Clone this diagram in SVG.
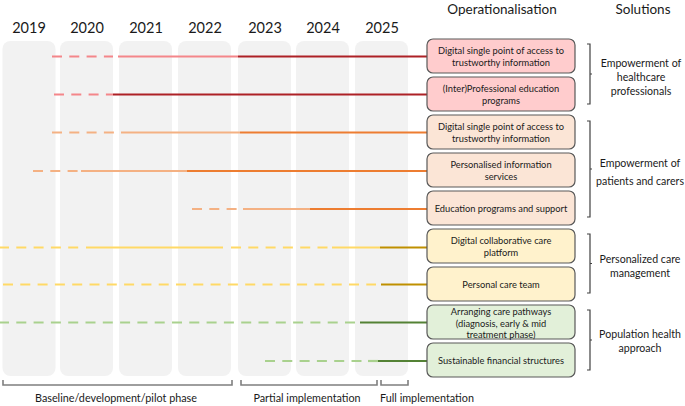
<svg xmlns="http://www.w3.org/2000/svg" width="685" height="406" viewBox="0 0 685 406">
<style>
.col{fill:#f2f2f2}
.yr{font-family:Lato,"Liberation Sans",sans-serif;font-size:14.5px;fill:#1a1a1a;text-anchor:middle}
.hd{font-family:Lato,"Liberation Sans",sans-serif;font-size:13.5px;fill:#1a1a1a;text-anchor:middle}
.sol{font-family:Lato,"Liberation Sans",sans-serif;font-size:10.6px;fill:#1a1a1a;text-anchor:middle}
.bt{font-family:Lato,"Liberation Sans",sans-serif;font-size:9.3px;fill:#1a1a1a;text-anchor:middle}
.ph{font-family:Lato,"Liberation Sans",sans-serif;font-size:10.8px;fill:#1a1a1a;text-anchor:middle}
.box{stroke:#595959;stroke-width:1.2}
.pk{fill:#ffcccd}.or{fill:#fbe5d6}.ye{fill:#fff2cc}.gr{fill:#e2f0d9}
.ln{fill:none;stroke-width:2.2}
.d{stroke-dasharray:10 7.3}
.rl{stroke:#f4868a}.rd{stroke:#ad2126}
.ol{stroke:#f4b183}.od{stroke:#ed7d31}
.yl{stroke:#ffd966}.yd{stroke:#bf9000}
.gl{stroke:#a9d18e}.gd{stroke:#548235}
.br{fill:none;stroke:#404040;stroke-width:1.2}
.bb{fill:none;stroke:#7f7f7f;stroke-width:1.6}
</style>
<g id="columns">
<rect class="col" x="2.5" y="41" width="53" height="335" rx="8"/>
<rect class="col" x="60" y="41" width="53" height="335" rx="8"/>
<rect class="col" x="119" y="41" width="53" height="335" rx="8"/>
<rect class="col" x="178" y="41" width="53" height="335" rx="8"/>
<rect class="col" x="238" y="41" width="53" height="335" rx="8"/>
<rect class="col" x="296" y="41" width="53" height="335" rx="8"/>
<rect class="col" x="355" y="41" width="53" height="335" rx="8"/>
</g>
<g id="years">
<text class="yr" x="29" y="33">2019</text>
<text class="yr" x="87" y="33">2020</text>
<text class="yr" x="146" y="33">2021</text>
<text class="yr" x="205" y="33">2022</text>
<text class="yr" x="265" y="33">2023</text>
<text class="yr" x="323" y="33">2024</text>
<text class="yr" x="382" y="33">2025</text>
</g>
<g id="headers">
<text class="hd" x="502" y="14">Operationalisation</text>
<text class="hd" x="643" y="14">Solutions</text>
</g>
<g id="connectors">
<path class="ln d rl" d="M52,56.5H113"/>
<path class="ln rl" d="M118,56.5H238"/>
<path class="ln rd" d="M238,56.5H427"/>
<path class="ln d rl" d="M54,94.5H113"/>
<path class="ln rd" d="M113,94.5H427"/>
<path class="ln d ol" d="M52,132.5H114"/>
<path class="ln ol" d="M121,132.5H240"/>
<path class="ln od" d="M240,132.5H427"/>
<path class="ln d ol" d="M33,171H78"/>
<path class="ln ol" d="M81,171H187"/>
<path class="ln od" d="M187,171H427"/>
<path class="ln d ol" d="M192,209H237"/>
<path class="ln ol" d="M243,209H310"/>
<path class="ln od" d="M310,209H427"/>
<path class="ln d yl" d="M-1,247.5H80"/>
<path class="ln yl" d="M86,247.5H223"/>
<path class="ln d yl" d="M231,247.5H328"/>
<path class="ln yl" d="M332,247.5H380"/>
<path class="ln yd" d="M380,247.5H427"/>
<path class="ln d yl" d="M3,284.5H376"/>
<path class="ln yd" d="M381,284.5H427"/>
<path class="ln d gl" d="M-1,322.5H356"/>
<path class="ln gd" d="M360,322.5H427"/>
<path class="ln d gl" d="M265,361H369"/>
<path class="ln gl" d="M368,361H378"/>
<path class="ln gd" d="M378,361H427"/>
</g>
<g id="op1"><rect class="box pk" x="427" y="39" width="148" height="34" rx="6"/><text class="bt" x="501" y="54">Digital single point of access to</text><text class="bt" x="501" y="65.5">trustworthy information</text></g>
<g id="op2"><rect class="box pk" x="427" y="77" width="148" height="34" rx="6"/><text class="bt" x="501" y="92">(Inter)Professional education</text><text class="bt" x="501" y="103.5">programs</text></g>
<g id="op3"><rect class="box or" x="427" y="115" width="148" height="34" rx="6"/><text class="bt" x="501" y="130">Digital single point of access to</text><text class="bt" x="501" y="141.5">trustworthy information</text></g>
<g id="op4"><rect class="box or" x="427" y="153" width="148" height="34" rx="6"/><text class="bt" x="501" y="168">Personalised information</text><text class="bt" x="501" y="179.5">services</text></g>
<g id="op5"><rect class="box or" x="427" y="191" width="148" height="34" rx="6"/><text class="bt" x="501" y="211.5">Education programs and support</text></g>
<g id="op6"><rect class="box ye" x="427" y="229" width="148" height="34" rx="6"/><text class="bt" x="501" y="244">Digital collaborative care</text><text class="bt" x="501" y="255.5">platform</text></g>
<g id="op7"><rect class="box ye" x="427" y="267" width="148" height="34" rx="6"/><text class="bt" x="501" y="287.5">Personal care team</text></g>
<g id="op8"><rect class="box gr" x="427" y="305" width="148" height="34" rx="6"/><text class="bt" x="501" y="315">Arranging care pathways</text><text class="bt" x="501" y="326.5">(diagnosis, early &amp; mid</text><text class="bt" x="501" y="338">treatment phase)</text></g>
<g id="op9"><rect class="box gr" x="427" y="343" width="148" height="34" rx="6"/><text class="bt" x="501" y="363.5">Sustainable financial structures</text></g>
<g id="sol1"><path class="br" d="M587,44H590V104H587M590,74H592"/><text class="sol" x="641" y="67">Empowerment of</text><text class="sol" x="641" y="81">healthcare</text><text class="sol" x="641" y="95">professionals</text></g>
<g id="sol2"><path class="br" d="M587,121H590V217H587M590,169H592"/><text class="sol" x="640" y="167">Empowerment of</text><text class="sol" x="640" y="185">patients and carers</text></g>
<g id="sol3"><path class="br" d="M587,234H590V293H587M590,263.5H592"/><text class="sol" x="640" y="263">Personalized care</text><text class="sol" x="640" y="277">management</text></g>
<g id="sol4"><path class="br" d="M587,310H590V370H587M590,340H592"/><text class="sol" x="640" y="338">Population health</text><text class="sol" x="640" y="352">approach</text></g>
<g id="phases">
<path class="bb" d="M3,380V385H232V380"/>
<path class="bb" d="M241,380V385H377V380"/>
<path class="bb" d="M381,380V385H408V380"/>
<text class="ph" x="116" y="402">Baseline/development/pilot phase</text>
<text class="ph" x="307" y="402">Partial implementation</text>
<text class="ph" x="427" y="402">Full implementation</text>
</g>
</svg>
